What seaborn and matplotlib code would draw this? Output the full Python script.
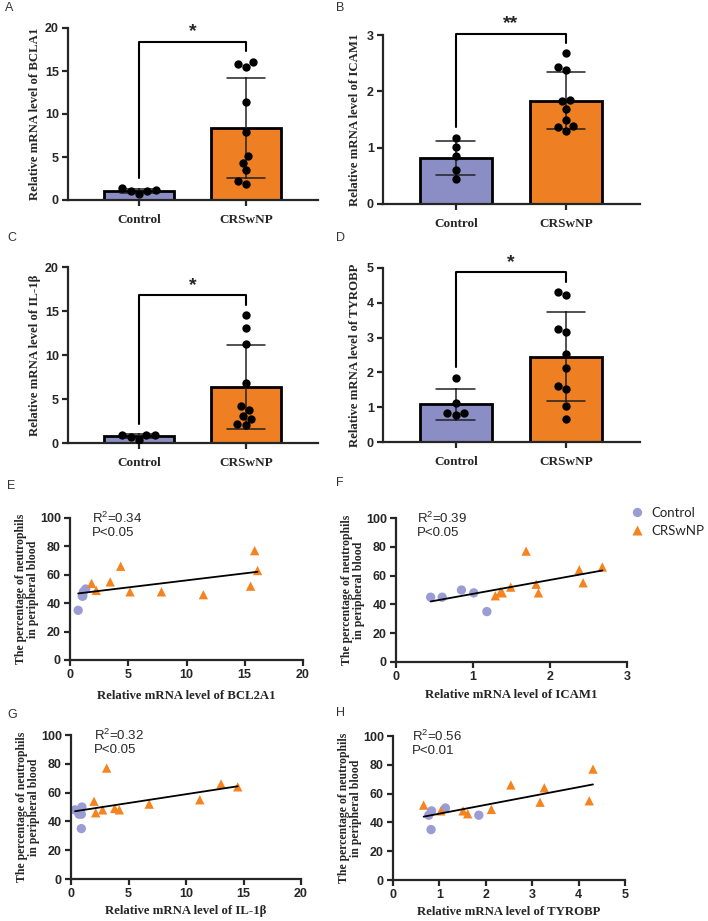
import numpy as np
import pandas as pd
import seaborn as sns
import matplotlib.pyplot as plt

# group names
groups = ['Control', 'CRSwNP']

# relative mRNA levels (bar panels), ordered to pair with neutrophil values below
bcl_ctrl = [0.7, 1.05, 1.1, 1.15, 1.35]
bcl_crs = [15.85, 15.5, 16.1, 11.45, 7.85, 5.15, 4.35, 3.45, 1.85, 2.25]
icam_ctrl = [0.45, 0.60, 0.85, 1.01, 1.18]
icam_crs = [2.68, 2.38, 2.43, 1.85, 1.82, 1.69, 1.49, 1.38, 1.36, 1.29]
il_ctrl = [0.35, 0.7, 0.9, 0.95, 0.9]
il_crs = [14.5, 13.05, 11.2, 6.8, 3.8, 4.2, 2.75, 3.1, 2.0, 2.15]
tyr_ctrl = [1.85, 1.13, 0.77, 0.83, 0.82]
tyr_crs = [4.31, 4.23, 3.17, 3.26, 2.54, 2.12, 1.51, 1.61, 1.03, 0.66]

# neutrophil percentage in peripheral blood, paired per panel
neu_ctrl_e = [35, 45, 45, 48, 50]
neu_crs_e = [77, 52, 63, 46, 48, 48, 66, 55, 54, 49]
neu_ctrl_f = [45, 45, 50, 48, 35]
neu_crs_f = [66, 64, 55, 48, 54, 77, 52, 48, 49, 46]
neu_ctrl_g = [48, 45, 45, 50, 35]
neu_crs_g = [64, 66, 55, 52, 49, 48, 48, 77, 54, 46]
neu_ctrl_h = [45, 50, 45, 48, 35]
neu_crs_h = [77, 55, 54, 64, 66, 49, 48, 46, 48, 52]

# annotation texts
stars = ['*', '**', '*', '*']
r2_texts = ['R$^{2}$=0.34', 'R$^{2}$=0.39', 'R$^{2}$=0.32', 'R$^{2}$=0.56']
p_texts = ['P<0.05', 'P<0.05', 'P<0.05', 'P<0.01']

W, H = 708, 921
bar_colors = {'Control': '#8A8EC5', 'CRSwNP': '#EE7F22'}
dot_colors = {'Control': '#9A9DD5', 'CRSwNP': '#F5831F'}
SERIF = 'Liberation Serif'
SANS = 'Liberation Sans'


def box(l, t, r, b):
    return [l / W, 1 - b / H, (r - l) / W, (b - t) / H]


def style_axes(ax):
    sns.despine(ax=ax)
    for s in ['left', 'bottom']:
        ax.spines[s].set_linewidth(1.6)
    ax.tick_params(direction='out', length=4, width=1.6, labelsize=9, pad=2.5)


def bar_panel(ax, ctrl, crs, ymax, step, ylabel, star, label_x):
    df = pd.DataFrame({'group': ['Control'] * len(ctrl) + ['CRSwNP'] * len(crs),
                       'value': ctrl + crs})
    sns.barplot(data=df, x='group', y='value', hue='group', order=groups,
                hue_order=groups, palette=bar_colors, saturation=1,
                errorbar='sd', capsize=0.35, width=0.65, edgecolor='black',
                linewidth=2, err_kws={'color': '#222222', 'linewidth': 1.1},
                legend=False, ax=ax)
    sns.swarmplot(data=df, x='group', y='value', order=groups, color='black',
                  size=6, ax=ax)
    ax.set_xlim(-0.66, 1.67)
    ax.set_ylim(0, ymax)
    ax.set_yticks(np.arange(0, ymax + step / 2, step))
    ax.set_xlabel('')
    ax.set_ylabel(ylabel, fontfamily=SERIF, fontsize=9.2, fontweight='bold')
    ax.yaxis.set_label_coords(label_x, 0.5)
    style_axes(ax)
    ax.tick_params(axis='x', pad=6)
    ax.set_xticks(range(len(groups)), groups, fontfamily=SERIF, fontsize=9.5)
    # significance bracket
    left = max(ctrl) + 0.06 * ymax
    right = max(crs) + 0.06 * ymax
    top = max(ctrl + crs) + 0.115 * ymax
    ax.plot([0, 0, 1, 1], [left, top, top, right], color='black', lw=1.5,
            clip_on=False)
    ax.annotate(star, (0.5, top), xytext=(0, 1), textcoords='offset points',
                ha='center', va='bottom', fontsize=14, annotation_clip=False)


def scatter_panel(ax, xc, yc, xs, ys, xmax, step, xlabel, r2, p, ylab_x,
                  xlab_y, text_x, legend=False):
    df = pd.DataFrame({'x': xc + xs, 'y': yc + ys,
                       'group': ['Control'] * len(xc) + ['CRSwNP'] * len(xs)})
    sns.scatterplot(data=df, x='x', y='y', hue='group', style='group',
                    hue_order=groups, style_order=groups,
                    markers={'Control': 'o', 'CRSwNP': '^'}, palette=dot_colors,
                    s=45, edgecolor='none', legend=legend, ax=ax)
    sns.regplot(data=df, x='x', y='y', scatter=False, ci=None, color='black',
                truncate=True, line_kws={'linewidth': 1.3}, ax=ax)
    ax.set_xlim(0, xmax)
    ax.set_ylim(0, 100)
    ax.set_xticks(np.arange(0, xmax + step / 2, step))
    ax.set_yticks(np.arange(0, 101, 20))
    ax.set_ylabel('The percentage of neutrophils\nin peripheral blood',
                  fontfamily=SERIF, fontsize=8.5, linespacing=1.0,
                  fontweight='bold')
    ax.yaxis.set_label_coords(ylab_x, 0.5)
    ax.set_xlabel(xlabel, fontfamily=SERIF, fontsize=9.2, fontweight='bold')
    ax.xaxis.set_label_coords(0.5, xlab_y)
    style_axes(ax)
    ax.text(text_x, 1.0, r2, transform=ax.transAxes, ha='left', va='center',
            fontsize=9.5, fontweight='normal')
    ax.text(text_x, 0.895, p, transform=ax.transAxes, ha='left', va='center',
            fontsize=9.5, fontweight='normal')


sns.set_style('ticks')
plt.rcParams['font.family'] = [SANS, 'DejaVu Sans']
plt.rcParams['font.weight'] = 'bold'
plt.rcParams['axes.labelweight'] = 'bold'
plt.rcParams['mathtext.fontset'] = 'custom'
plt.rcParams['mathtext.rm'] = SANS
plt.rcParams['mathtext.default'] = 'regular'

fig = plt.figure(figsize=(7.08, 9.21), dpi=100)

ax_a = fig.add_axes(box(68, 28, 318, 200))
ax_b = fig.add_axes(box(383, 35, 640, 204))
ax_c = fig.add_axes(box(68, 267, 318, 443))
ax_d = fig.add_axes(box(383, 268, 640, 442))
ax_e = fig.add_axes(box(70, 518, 303, 660))
ax_f = fig.add_axes(box(396, 518, 627, 662))
ax_g = fig.add_axes(box(71, 735, 301, 879))
ax_h = fig.add_axes(box(393, 736, 625, 880))

bar_panel(ax_a, bcl_ctrl, bcl_crs, 20, 5, 'Relative mRNA level of BCLA1', stars[0], -0.108)
bar_panel(ax_b, icam_ctrl, icam_crs, 3, 1, 'Relative mRNA level of ICAM1', stars[1], -0.086)
bar_panel(ax_c, il_ctrl, il_crs, 20, 5, 'Relative mRNA level of IL-1β', stars[2], -0.108)
bar_panel(ax_d, tyr_ctrl, tyr_crs, 5, 1, 'Relative mRNA level of TYROBP', stars[3], -0.086)

scatter_panel(ax_e, bcl_ctrl, neu_ctrl_e, bcl_crs, neu_crs_e, 20, 5,
              'Relative mRNA level of BCL2A1', r2_texts[0], p_texts[0],
              -0.131, -0.21, 0.094)
scatter_panel(ax_f, icam_ctrl, neu_ctrl_f, icam_crs, neu_crs_f, 3, 1,
              'Relative mRNA level of ICAM1', r2_texts[1], p_texts[1],
              -0.134, -0.19, 0.09, legend=True)
scatter_panel(ax_g, il_ctrl, neu_ctrl_g, il_crs, neu_crs_g, 20, 5,
              'Relative mRNA level of IL-1β', r2_texts[2], p_texts[2],
              -0.133, -0.18, 0.1)
scatter_panel(ax_h, tyr_ctrl, neu_ctrl_h, tyr_crs, neu_crs_h, 5, 1,
              'Relative mRNA level of TYROBP', r2_texts[3], p_texts[3],
              -0.134, -0.18, 0.08)

# move legend out to the right of panel F
handles, labels = ax_f.get_legend_handles_labels()
ax_f.get_legend().remove()
fig.legend(handles, labels, loc='center left', bbox_to_anchor=(629 / W, 1 - 522 / H),
           frameon=False, prop={'family': 'Lato', 'size': 9.5, 'weight': 'normal'},
           handletextpad=0.5, labelspacing=0.45, handlelength=1.2,
           borderpad=0, borderaxespad=0)

# panel letters
letters = [('A', 5, 8), ('B', 336, 8), ('C', 7, 238), ('D', 336, 238),
           ('E', 7, 486), ('F', 336, 483), ('G', 7, 715), ('H', 336, 713)]
for s, x, y in letters:
    fig.text(x / W, 1 - y / H, s, ha='left', va='center', fontsize=9,
             color='#333333', fontweight='normal')

fig.savefig('out.png', dpi=100)
